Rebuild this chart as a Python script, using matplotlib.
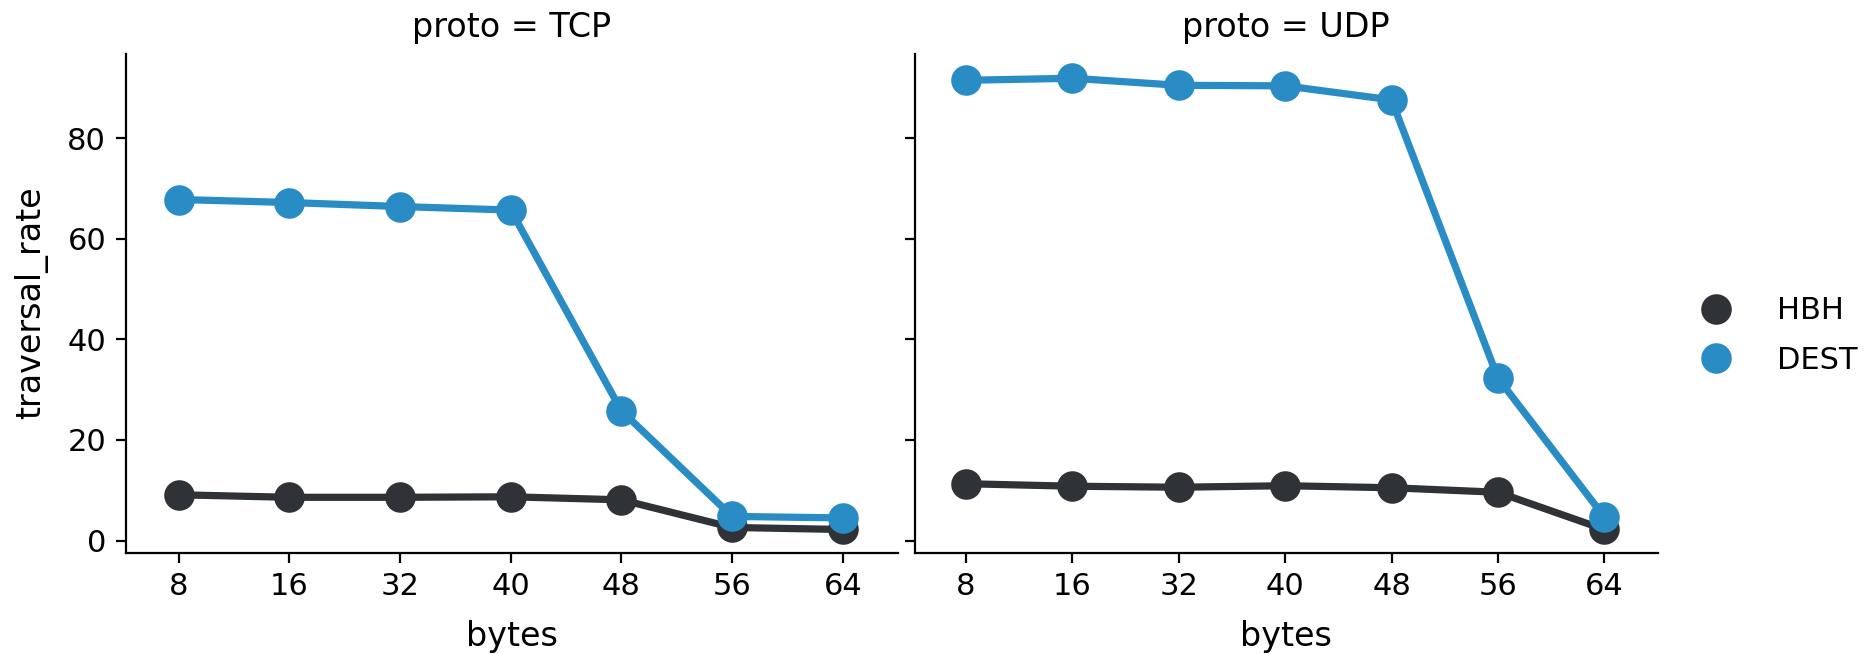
import matplotlib
matplotlib.use("Agg")
from matplotlib import pyplot as plt

# data
byte_sizes = ["8", "16", "32", "40", "48", "56", "64"]
protos = ["TCP", "UDP"]
hue_names = ["HBH", "DEST"]

tcp_hbh = [9.1, 8.6, 8.6, 8.7, 8.1, 2.6, 2.2]
tcp_dest = [67.8, 67.2, 66.4, 65.7, 25.8, 4.8, 4.5]
udp_hbh = [11.3, 10.8, 10.6, 10.9, 10.5, 9.6, 2.2]
udp_dest = [91.5, 91.9, 90.5, 90.4, 87.6, 32.3, 4.7]

series = {
    "TCP": {"HBH": tcp_hbh, "DEST": tcp_dest},
    "UDP": {"HBH": udp_hbh, "DEST": udp_dest},
}
colors = {"HBH": "#2f3237", "DEST": "#2a8cc4"}

fig = plt.figure(figsize=(9.375, 3.27), dpi=200)
ax1 = fig.add_axes([0.067, 0.155, 0.412, 0.763])
ax2 = fig.add_axes([0.488, 0.155, 0.396, 0.763], sharey=ax1)

x = list(range(len(byte_sizes)))
for ax, proto in zip([ax1, ax2], protos):
    for name in hue_names:
        ax.plot(x, series[proto][name], "-o", color=colors[name], lw=2.6,
                ms=10, label=name)
    ax.set_xticks(x)
    ax.set_xticklabels(byte_sizes)
    ax.set_xlim(-0.48, len(byte_sizes) - 0.5)
    ax.set_title(f"proto = {proto}", fontsize=12)
    ax.set_xlabel("bytes", fontsize=12, labelpad=6.8)
    ax.tick_params(labelsize=11)
    ax.spines["top"].set_visible(False)
    ax.spines["right"].set_visible(False)

ax1.set_ylabel("traversal_rate", fontsize=12, labelpad=7)
ax1.set_ylim(-2.4, 96.8)
ax1.set_yticks([0, 20, 40, 60, 80])
ax2.tick_params(labelleft=False)

handles = [plt.Line2D([], [], marker="o", ls="", ms=10, color=colors[n]) for n in hue_names]
fig.legend(handles, hue_names, loc="center left", bbox_to_anchor=(0.884, 0.487),
           frameon=False, fontsize=11, handletextpad=1.0, labelspacing=0.66)

fig.savefig("out.png", dpi=200)
